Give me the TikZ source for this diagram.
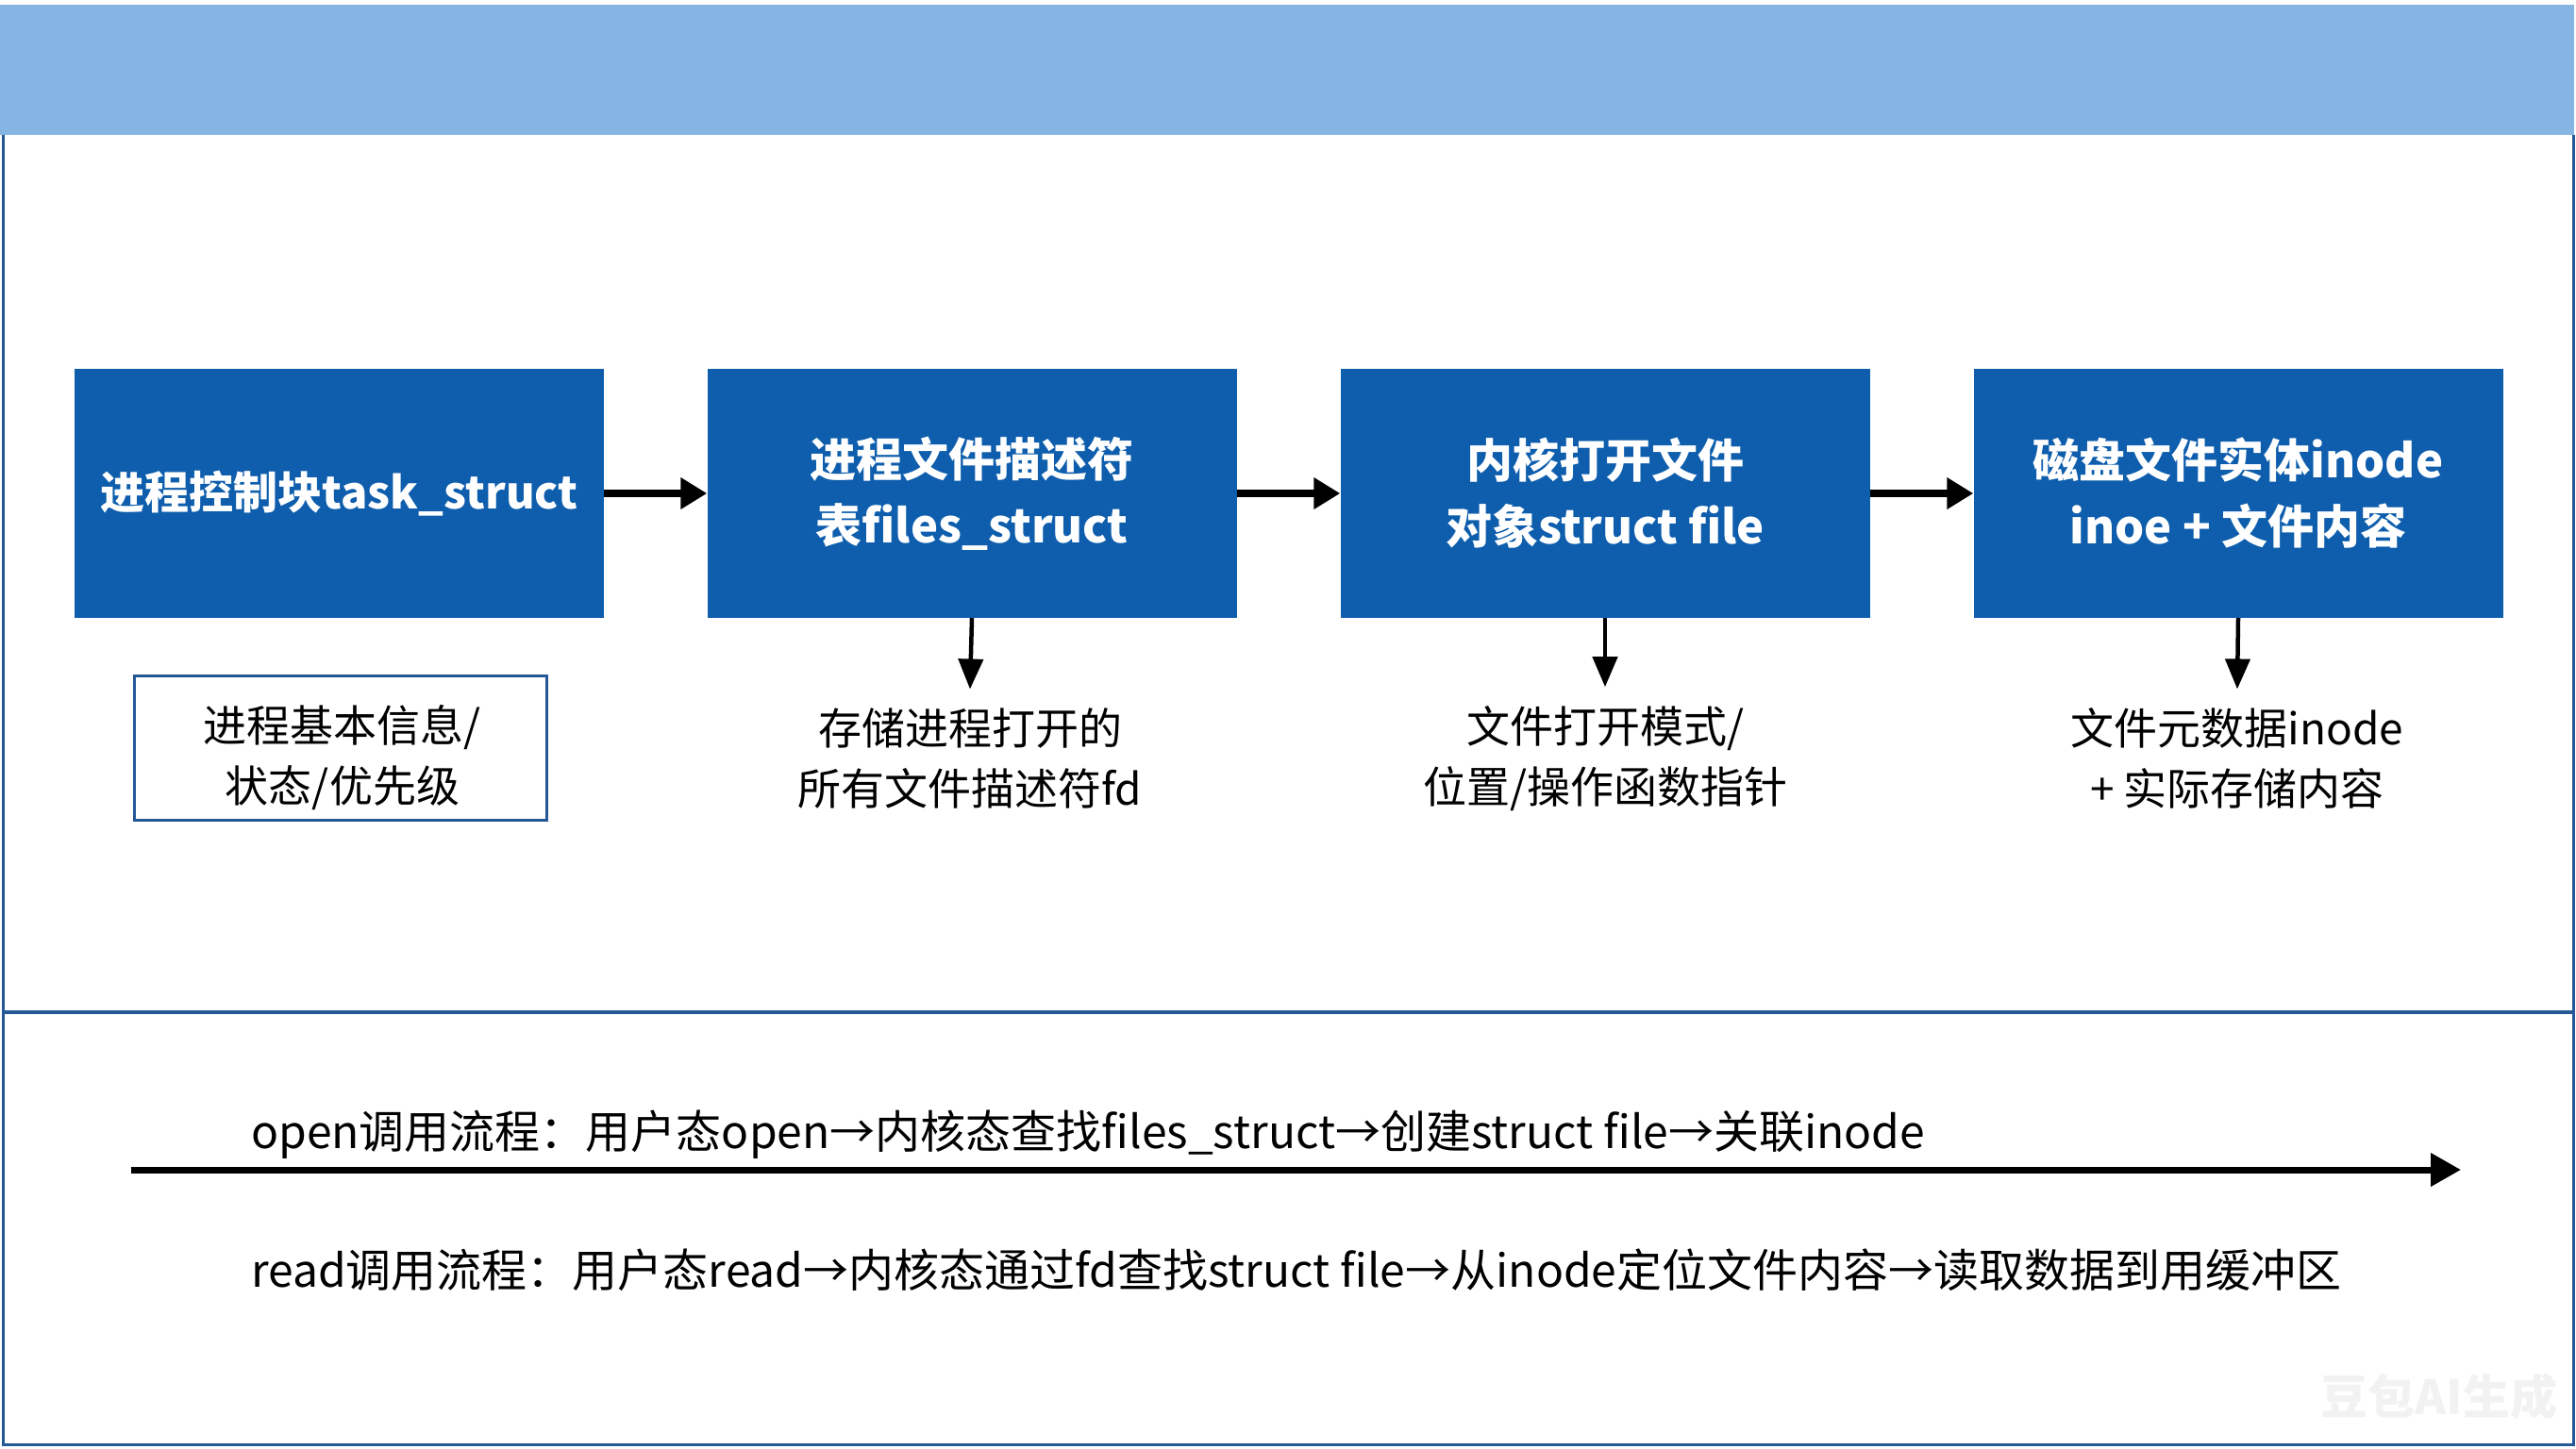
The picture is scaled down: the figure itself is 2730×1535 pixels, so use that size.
\documentclass[tikz,border=0pt]{standalone}
\usepackage{fontspec}
\setmainfont{Noto Sans CJK SC}
\usetikzlibrary{arrows.meta}
\definecolor{boxblue}{HTML}{0E5EAD}
\definecolor{band}{HTML}{86B4E3}
\definecolor{frameblue}{HTML}{245896}
\begin{document}
\begin{tikzpicture}[x=1pt,y=-1pt,
  mainbox/.style={fill=boxblue,draw=none,minimum width=561pt,minimum height=264pt,inner sep=0pt,
    text=white,align=center,font=\fontsize{49}{70}\selectfont\bfseries},
  subtext/.style={align=center,inner xsep=0pt,inner ysep=20pt,font=\fontsize{46}{64}\selectfont},
  subbox/.style={draw=frameblue,line width=3pt,minimum width=437pt,minimum height=153pt},
  harrow/.style={line width=8pt,-{Triangle[length=28pt,width=32pt]}},
  varrow/.style={line width=4.5pt,-{Triangle[length=32pt,width=26pt]}},
  flowtext/.style={anchor=west,inner sep=0pt,font=\fontsize{48}{52}\selectfont},
]
\useasboundingbox (0,0) rectangle (2730,1535);
\fill[white] (0,0) rectangle (2730,1535);
% top band
\fill[band] (0,5) rectangle (2728,143);
% frame
\draw[frameblue,line width=3pt] (3,143) -- (3,1531) -- (2727,1531) -- (2727,143);
\draw[frameblue,line width=4pt] (3,1073) -- (2727,1073);

% boxes
\node[mainbox,font=\fontsize{47}{70}\selectfont\bfseries] (b1) at (359.5,523) {进程控制块task\_struct};
\node[mainbox] (b2) at (1030,523) {进程文件描述符\\表files\_struct};
\node[mainbox] (b3) at (1701,523) {内核打开文件\\对象struct file};
\node[mainbox] (b4) at (2372,523) {磁盘文件实体inode\\inoe + 文件内容};

\draw[harrow] (b1.east) -- (b2.west);
\draw[harrow] (b2.east) -- (b3.west);
\draw[harrow] (b3.east) -- (b4.west);

% sub texts
\node[subbox] (s1) at (361,792.5) {};
\node[subtext] (s1t) at (363,803) {进程基本信息/\\状态/优先级};
\node[subtext] (s2) at (1028,804) {存储进程打开的\\所有文件描述符fd};
\node[subtext] (s3) at (1701,804) {文件打开模式/\\位置/操作函数指针};
\node[subtext] (s4) at (2371,804) {文件元数据inode\\+ 实际存储内容};

\draw[varrow] (b2.south) -- (s2.north);
\draw[varrow] (b3.south) -- (s3.north);
\draw[varrow] (b4.south) -- (s4.north);

% bottom flow
\coordinate (fa) at (139,1240);
\coordinate (fb) at (2608,1240);
\draw[line width=7pt,-{Triangle[length=32pt,width=34pt]}] (fa) -- (fb);
\node[flowtext] (open) at (266,1203) {open调用流程：用户态open→内核态查找files\_struct→创建struct file→关联inode};
\node[flowtext] (read) at (266,1346) {read调用流程：用户态read→内核态通过fd查找struct file→从inode定位文件内容→读取数据到用缓冲区};

% watermark
\node[text=black!5,font=\fontsize{50}{50}\selectfont\bfseries] (wm) at (2585,1480) {豆包AI生成};
\end{tikzpicture}
\end{document}
